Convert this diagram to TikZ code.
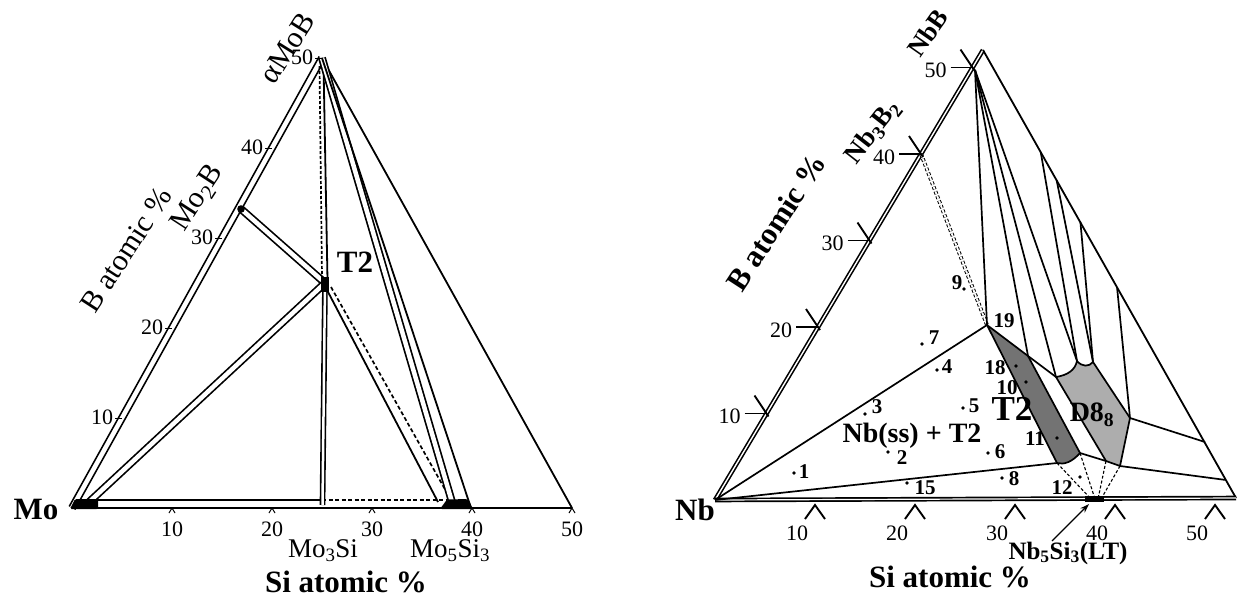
\documentclass[tikz,border=0pt]{standalone}
\usepackage{fontspec}
\setmainfont{Liberation Serif}
\usetikzlibrary{arrows.meta}
\tikzset{
  ln/.style={line width=1.8pt},
  thn/.style={line width=1.7pt},
  dbl/.style={double=white, double distance=4.5pt, line width=1.7pt},
  dblr/.style={double=white, double distance=1.4pt, line width=1.6pt},
  dsh/.style={line width=1.7pt, dash pattern=on 4pt off 2.5pt},
  tk/.style={line width=1.9pt},
  num/.style={font=\fontsize{22}{22}\selectfont, inner sep=0pt},
  bnum/.style={font=\fontsize{21}{21}\selectfont\bfseries, inner sep=0pt},
  lbl/.style={font=\fontsize{30}{30}\selectfont, inner sep=0pt},
  blbl/.style={font=\fontsize{31}{31}\selectfont\bfseries, inner sep=0pt},
  pdot/.style={circle, fill, inner sep=0pt, minimum size=3.8pt},
}
\definecolor{darkst}{gray}{0.45}
\definecolor{lightst}{gray}{0.68}
\begin{document}
\begin{tikzpicture}[x=1pt, y=-1pt]
\useasboundingbox (0,0) rectangle (1238,598);

% ================= LEFT DIAGRAM (Mo-Si-B) =================
\coordinate (Mo) at (72,508);
\coordinate (S50) at (572,508);
\coordinate (AMoB) at (322,58);
\coordinate (MoB2) at (241,209);
\coordinate (T2L) at (325,283);
\coordinate (MoSS) at (88,503);
\coordinate (Mo3SiB) at (322.5,505);
\coordinate (BaseA) at (97,500);
\coordinate (BaseM) at (322,500);
\coordinate (BaseE) at (446,500);
% edges
\draw[dbl] (Mo) -- (AMoB);
\draw[ln] (AMoB) -- (S50);
\draw[ln] (Mo) -- (S50);
\draw[ln] (BaseA) -- (BaseM);
\draw[dsh] (BaseM) -- (BaseE);
% tie lines
\draw[dbl] (MoB2) -- (T2L);
\draw[dbl] (MoSS) -- (T2L);
\draw[dblr, double distance=2.5pt] (T2L) -- (Mo3SiB);
\coordinate (AT1) at (323.5,64);
\coordinate (AT2) at (327.5,280);
\draw[ln] (AT1) -- (AT2);
\coordinate (AD1) at (319.5,66);
\coordinate (AD2) at (322,277);
\draw[dsh, dash pattern=on 3pt off 2pt] (AD1) -- (AD2);
\coordinate (TS1) at (327,290);
\coordinate (TS2) at (438,502);
\draw[ln] (TS1) -- (TS2);
\coordinate (TD1) at (331,287);
\coordinate (TD2) at (451,500);
\draw[dsh] (TD1) -- (TD2);
\coordinate (M53a) at (452,502);
\coordinate (M53b) at (470,505);
\draw[dbl] (AMoB) -- (M53a);
\draw[ln] (AMoB) -- (M53b);
% blobs
\fill[rounded corners=1.5pt] (70,509) -- (75,499) -- (98,499) -- (98,509) -- cycle;
\fill[rounded corners=2pt] (440,509) -- (447,499.5) -- (468,499) -- (473,509) -- cycle;
\fill (321,277) rectangle (329,292);
\fill (MoB2) circle (3.8);
% ticks left edge
\foreach \b in {10,20,30,40,50} {
  \coordinate (lt\b) at ({72+5*\b},{508-9*\b});
  \draw[line width=1pt] ({65+5*\b},{508-9*\b}) -- (lt\b);
  \node[num] at ({52+5*\b},{507-9*\b}) {\b};
}
% ticks bottom
\foreach \s in {10,20,30,40,50} {
  \draw[line width=1pt] ({69+10*\s},513) -- ({72+10*\s},508) -- ({75+10*\s},513);
  \node[num] at ({72+10*\s},529) {\s};
}
% labels
\node[lbl, rotate=58] (lAMoB) at (287,48) {αMoB};
\node[lbl, rotate=57] (lMo2B) at (198,198) {Mo\textsubscript{2}B};
\node[lbl, rotate=57] (lBat) at (126,250) {B atomic \%};
\node[blbl] (lT2) at (355,262) {T2};
\node[blbl] (lMo) at (36,509) {Mo};
\node[lbl, font=\fontsize{27}{27}\selectfont] (lMo3Si) at (323,551) {Mo\textsubscript{3}Si};
\node[lbl, font=\fontsize{27}{27}\selectfont] (lMo5Si3) at (450,551) {Mo\textsubscript{5}Si\textsubscript{3}};
\node[blbl] (lSi) at (346,582) {Si atomic \%};

% ================= RIGHT DIAGRAM (Nb-Si-B) =================
\coordinate (Nb) at (715,500);
\coordinate (RA) at (983,50);
\coordinate (RC) at (1236,498);
\coordinate (N50) at (975,70);
\coordinate (N40) at (921,154);
\coordinate (V19) at (987,325);
\coordinate (TA) at (1028,356);
\coordinate (TB) at (1080,453);
\coordinate (TC) at (1057,463);
\coordinate (P1) at (1056,377);
\coordinate (P2) at (1077,361);
\coordinate (P3) at (1093,362);
\coordinate (P4) at (1130,418);
\coordinate (P5) at (1120,466);
\coordinate (P6) at (1106,461);
\coordinate (R1) at (1040.7,152);
\coordinate (R2) at (1056.6,180);
\coordinate (R3) at (1080.4,222);
\coordinate (R4) at (1117,287);
\coordinate (R5) at (1205,442);
\coordinate (R6) at (1226,480);
\coordinate (S5a) at (1091,499);
\coordinate (S5b) at (1095,499);
\coordinate (S5c) at (1098,499);
\coordinate (S5d) at (1101,499);
% phase fields
\fill[lightst] (P1) .. controls (1068,375) and (1075,370) .. (P2)
   .. controls (1082,367) and (1089,367) .. (P3) -- (P4) -- (P5) -- (P6) -- cycle;
\draw[thn] (P1) .. controls (1068,375) and (1075,370) .. (P2)
   .. controls (1082,367) and (1089,367) .. (P3) -- (P4) -- (P5) -- (P6) -- cycle;
\fill[darkst] (V19) -- (TA) -- (TB) .. controls (1072,462) and (1064,465) .. (TC) -- cycle;
\draw[thn] (V19) -- (TA) -- (TB) .. controls (1072,462) and (1064,465) .. (TC) -- cycle;
\draw[thn] (TA) -- (P1);
\draw[thn] (TB) -- (P6);
% outer triangle
\draw[dblr] (Nb) -- (RA);
\draw[ln] (RA) -- (RC);
\draw[dblr, double distance=1.2pt, line width=1.7pt] (Nb) -- (RC);
% tie lines
\draw[thn] (Nb) -- (V19);
\draw[thn] (Nb) -- (TC);
\draw[dblr, densely dashed, line width=1pt, double distance=1.8pt] (N40) -- (V19);
\draw[thn] (N50) -- (V19);
\draw[thn] (N50) -- (TA);
\draw[thn] (N50) -- (P1);
\draw[thn] (N50) -- (P2);
\draw[thn] (R1) -- (P2);
\draw[thn] (R2) -- (P3);
\draw[thn] (R3) -- (P3);
\draw[thn] (R4) -- (P4);
\draw[thn] (P4) -- (R5);
\draw[thn] (P5) -- (R6);
\draw[line width=1.1pt, densely dashed] (TC) -- (S5a);
\draw[line width=1.1pt, densely dashed] (TB) -- (S5b);
\draw[line width=1.1pt, densely dashed] (P6) -- (S5c);
\draw[line width=1.1pt, densely dashed] (P5) -- (S5d);
\fill (1085,496) rectangle (1104,501.5);
% ticks left edge
\foreach \b in {10,20,30,40,50} {
  \coordinate (rt\b) at ({715+5.15*\b},{500-8.65*\b});
  \draw[tk] ({693+5.15*\b},{500-8.65*\b}) -- (rt\b);
  \draw[tk] ({703+5.15*\b},{482-8.65*\b}) -- ({717+5.15*\b},{503-8.65*\b});
  \node[num] at ({678+5.15*\b},{503-8.65*\b}) {\b};
}
% ticks bottom
\foreach \s in {10,20,30,40,50} {
  \draw[tk] ({705+10*\s},519) -- ({715+10*\s},505) -- ({725+10*\s},519);
  \node[num] at ({697+10*\s},533) {\s};
}
% labels
\node[blbl, font=\fontsize{26}{26}\selectfont\bfseries, rotate=55] (lNbB) at (928,33) {NbB};
\node[blbl, font=\fontsize{27}{27}\selectfont\bfseries, rotate=52] (lNb3B2) at (873,132) {Nb\textsubscript{3}B\textsubscript{2}};
\node[blbl, rotate=57] (rBat) at (776,222) {B atomic \%};
\node[blbl] (lNb) at (695,510) {Nb};
\node[blbl] (rSi) at (950,577) {Si atomic \%};
\node[blbl, font=\fontsize{25}{25}\selectfont\bfseries] (lNb5) at (1068,553) {Nb\textsubscript{5}Si\textsubscript{3}(LT)};
\coordinate (arS) at (1052,541);
\coordinate (arE) at (1089,504);
\draw[line width=1.3pt, -{Stealth[length=9pt, width=6pt]}] (arS) -- (arE);
\node[blbl, font=\fontsize{28}{28}\selectfont\bfseries] (lNbss) at (912,436) {Nb(ss) + T2};
\node[blbl, font=\fontsize{35}{35}\selectfont\bfseries] (lT2r) at (1012,409) {T2};
\node[blbl, font=\fontsize{28}{28}\selectfont\bfseries] (lD8) at (1092,415) {D8\textsubscript{8}};
% sample points
\node[pdot] (d7) at (922,344) {}; \node[bnum] at (934,338) {7};
\node[pdot] (d4) at (937,370) {}; \node[bnum] at (947,367) {4};
\node[pdot] (d3) at (865,414) {}; \node[bnum] at (877,407) {3};
\node[pdot] (d2) at (888,452) {}; \node[bnum] at (902,458) {2};
\node[pdot] (d1) at (794,473) {}; \node[bnum] at (804,472) {1};
\node[pdot] (d15) at (907,483) {}; \node[bnum] at (925,488) {15};
\node[pdot] (d5) at (963,408) {}; \node[bnum] at (974,406) {5};
\node[pdot] (d6) at (988,453) {}; \node[bnum] at (1000,452) {6};
\node[pdot] (d8) at (1002,478) {}; \node[bnum] at (1014,479) {8};
\node[pdot] (d12) at (1080,477) {}; \node[bnum] at (1062,488) {12};
\node[pdot] (d11) at (1057,438) {}; \node[bnum] at (1035,439) {11};
\node[pdot] (d10) at (1026,382) {}; \node[bnum] at (1007,388) {10};
\node[pdot] (d18) at (1016,366) {}; \node[bnum] at (995,368) {18};
\node[bnum] (n19) at (1004,321) {19};
\node[bnum] at (957,283) {9};
\node[pdot] (d9) at (964,289) {};
\end{tikzpicture}
\end{document}
